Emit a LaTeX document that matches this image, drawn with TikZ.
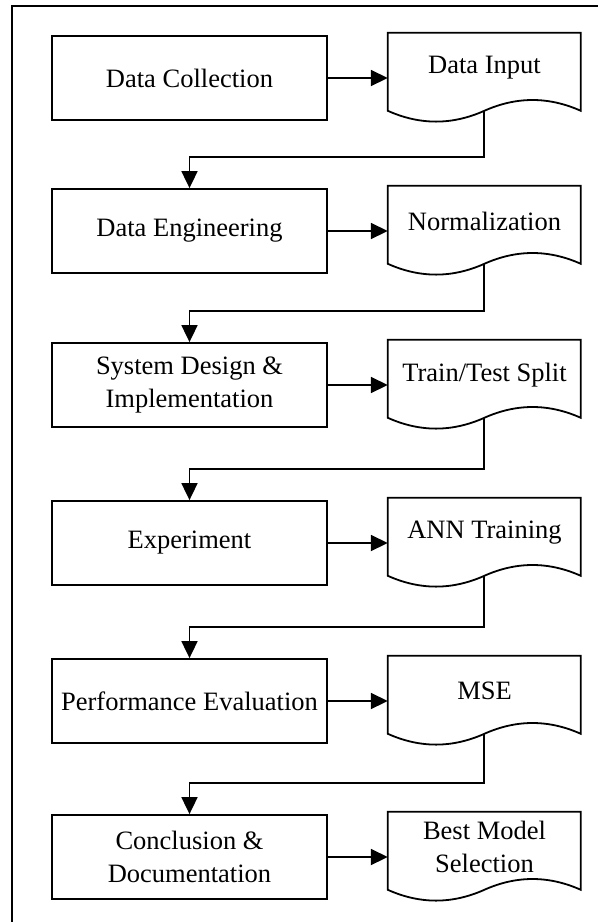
\documentclass[tikz,border=0pt]{standalone}
\usepackage{fontspec}
\setmainfont{Liberation Serif}
\usetikzlibrary{arrows.meta,calc}
\begin{document}
\begin{tikzpicture}[x=1pt,y=-1pt,
  every node/.style={font=\fontsize{26.5}{32.5}\selectfont},
  stage/.style={draw, line width=1.8pt, minimum width=275pt, minimum height=84pt,
                align=center, inner sep=0pt},
  docnode/.style={minimum width=193pt, minimum height=70pt, inner sep=0pt, align=center},
  docline/.style={line width=1.8pt},
  link/.style={line width=1.8pt, -{Triangle[length=17pt,width=16pt]}},
]
\useasboundingbox (0,0) rectangle (598,922);

% outer frame (only top and left edges fall inside the page)
\draw[line width=1.8pt] (12,922) -- (12,6) -- (598,6);

% process boxes on the left
\node[stage] (b1) at (189.5,78)  {Data Collection};
\node[stage] (b2) at (189.5,231) {Data Engineering};
\node[stage] (b3) at (189.5,385) {System Design \&\\Implementation};
\node[stage] (b4) at (189.5,543) {Experiment};
\node[stage] (b5) at (189.5,701) {Performance Evaluation};
\node[stage] (b6) at (189.5,857) {Conclusion \&\\Documentation};

% document shapes on the right (node holds the label; outline drawn below it)
\node[docnode] (d1) at (484.5,68)  {Data Input};
\node[docnode] (d2) at (484.5,221) {Normalization};
\node[docnode] (d3) at (484.5,375) {Train/Test Split};
\node[docnode] (d4) at (484.5,533) {ANN Training};
\node[docnode] (d5) at (484.5,691) {MSE};
\node[docnode] (d6) at (484.5,847) {Best Model\\Selection};

\foreach \d in {d1,d2,d3,d4,d5,d6}{
  \draw[docline, shift={(\d.north west)}]
    (0,0) -- (193,0) -- (193,78)
    .. controls (160.83,63.6) and (128.67,63.6) .. (96.5,78)
    .. controls (64.33,92.4) and (32.17,92.4) .. (0,78) -- cycle;
  \coordinate (\d w) at ([shift={(96.5,78)}]\d.north west);
}

% box -> document arrows
\foreach \i in {1,...,6}{
  \draw[link] (b\i.east) -- (b\i.east -| d\i.west);
}

% document -> next box connectors
\foreach \i/\j in {1/2,2/3,3/4,4/5,5/6}{
  \draw[link] (d\i w) |- ($(b\j.north)+(0,-31)$) -- (b\j.north);
}
\end{tikzpicture}
\end{document}
